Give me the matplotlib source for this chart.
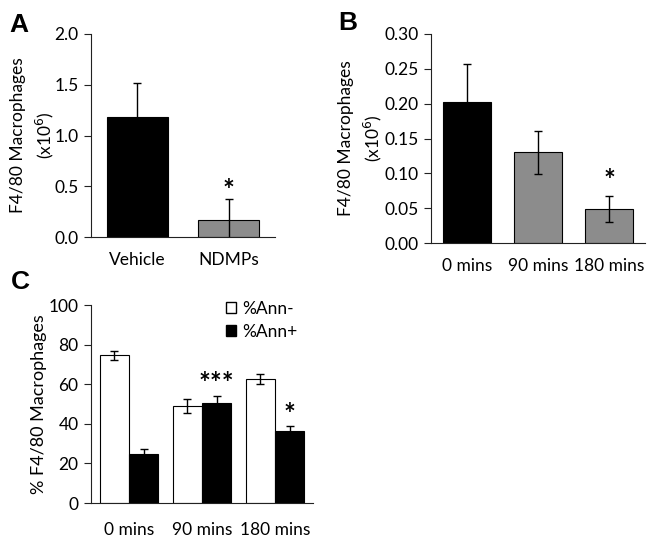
import matplotlib.pyplot as plt
from matplotlib.patches import Patch

plt.rcParams['font.family'] = ['Lato', 'DejaVu Sans']
plt.rcParams['font.size'] = 12

# Panel A
groupes_a = ["Vehicle", "NDMPs"]
valeurs_a = [1.18, 0.17]
erreurs_a = [0.34, 0.20]

# Panel B
groupes_b = ["0 mins", "90 mins", "180 mins"]
valeurs_b = [0.202, 0.130, 0.049]
erreurs_b = [0.055, 0.031, 0.019]

# Panel C
groupes_c = ["0 mins", "90 mins", "180 mins"]
ann_moins = [74.5, 49.0, 62.5]
ann_moins_err = [2.5, 3.5, 2.5]
ann_plus = [25.0, 50.5, 36.5]
ann_plus_err = [2.5, 3.5, 2.5]

W, H = 654, 542
fig = plt.figure(figsize=(W / 100, H / 100), dpi=100)


def boite(x0, y0, x1, y1):
    return [x0 / W, 1 - y1 / H, (x1 - x0) / W, (y1 - y0) / H]


def style_axes(ax, pad_x=10):
    for s in ["top", "right"]:
        ax.spines[s].set_visible(False)
    ax.spines["left"].set_color("#222222")
    ax.spines["bottom"].set_color("#222222")
    ax.tick_params(axis="x", length=0, pad=pad_x, labelsize=12.5)
    ax.tick_params(axis="y", length=5, direction="out", color="#222222", pad=4,
                   labelsize=12.5)


eb = dict(ecolor="black", elinewidth=1.0, capsize=3, capthick=1.0)

# ---- A ----
axA = fig.add_axes(boite(91, 34, 275, 237))
xa = range(len(groupes_a))
axA.bar(xa, valeurs_a, width=0.67, color=["black", "#8c8c8c"], edgecolor="black",
        linewidth=0.8, yerr=erreurs_a, error_kw=eb)
axA.set_xlim(-0.51, 1.51)
axA.set_ylim(0, 2.0)
axA.set_yticks([0, 0.5, 1.0, 1.5, 2.0])
axA.set_yticklabels(["0.0", "0.5", "1.0", "1.5", "2.0"])
axA.set_xticks(list(xa))
axA.set_xticklabels(groupes_a)
axA.set_ylabel("F4/80 Macrophages\n(x10$^6$)", fontsize=12.5, linespacing=1.45,
               labelpad=-1.5)
axA.text(1, 0.33, "*", ha="center", va="bottom", fontsize=20, fontweight="bold")
style_axes(axA, 11)

# ---- B ----
axB = fig.add_axes(boite(431, 34, 645, 243))
xb = range(len(groupes_b))
axB.bar(xb, valeurs_b, width=0.68, color=["black", "#8c8c8c", "#8c8c8c"],
        edgecolor="black", linewidth=0.8, yerr=erreurs_b, error_kw=eb)
axB.set_xlim(-0.507, 2.507)
axB.set_ylim(0, 0.30)
axB.set_yticks([0, 0.05, 0.10, 0.15, 0.20, 0.25, 0.30])
axB.set_yticklabels(["0.00", "0.05", "0.10", "0.15", "0.20", "0.25", "0.30"])
axB.set_xticks(list(xb))
axB.set_xticklabels(groupes_b)
axB.set_ylabel("F4/80 Macrophages\n(x10$^6$)", fontsize=12.5, linespacing=1.45,
               labelpad=0)
axB.text(2, 0.070, "*", ha="center", va="bottom", fontsize=20, fontweight="bold")
style_axes(axB, 11)

# ---- C ----
axC = fig.add_axes(boite(91, 305, 313, 503))
xc = list(range(len(groupes_c)))
larg = 0.4
axC.bar([x - larg / 2 for x in xc], ann_moins, width=larg, color="white",
        edgecolor="black", linewidth=0.8, yerr=ann_moins_err, error_kw=eb)
axC.bar([x + larg / 2 for x in xc], ann_plus, width=larg, color="black",
        edgecolor="black", linewidth=0.8, yerr=ann_plus_err, error_kw=eb)
axC.set_xlim(-0.52, 2.52)
axC.set_ylim(0, 100)
axC.set_yticks(range(0, 101, 20))
axC.set_xticks(xc)
axC.set_xticklabels(groupes_c)
axC.set_ylabel("% F4/80 Macrophages", fontsize=13, labelpad=1)
axC.text(1 + larg / 2, 53.5, "***", ha="center", va="bottom", fontsize=20, fontweight="bold")
axC.text(2 + larg / 2, 38, "*", ha="center", va="bottom", fontsize=20, fontweight="bold")
poignees = [Patch(facecolor="white", edgecolor="black", label="%Ann-"),
            Patch(facecolor="black", edgecolor="black", label="%Ann+")]
axC.legend(handles=poignees, loc="upper right", bbox_to_anchor=(0.93, 1.02),
           frameon=False, handlelength=0.6, handleheight=0.6, handletextpad=0.35,
           labelspacing=0.4, fontsize=12.5, borderaxespad=0, borderpad=0)
style_axes(axC, 14)

for lettre, x, y in [("A", 9, 32), ("B", 338, 30), ("C", 11, 289)]:
    fig.text(x / W, 1 - y / H, lettre, fontsize=19, fontweight="bold",
             family=["Liberation Sans", "DejaVu Sans"], ha="left", va="baseline")

fig.savefig("out.png", dpi=100)
